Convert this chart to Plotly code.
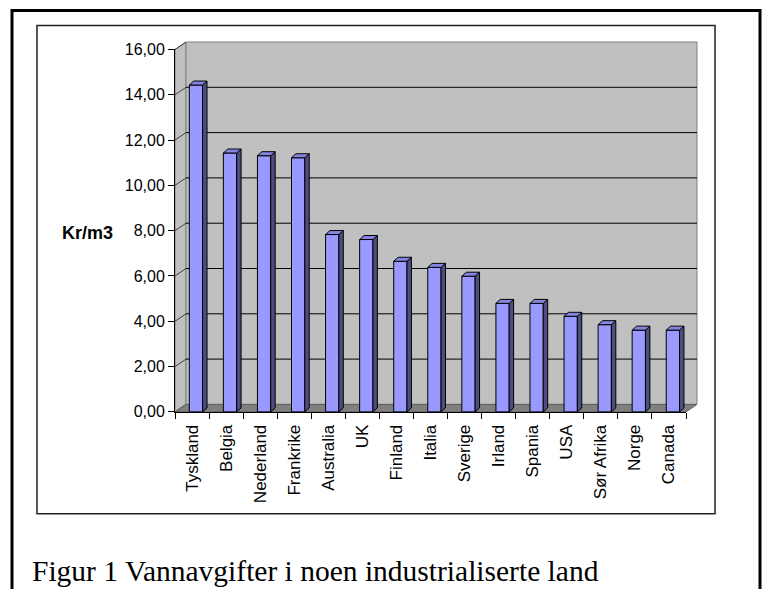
import plotly.graph_objects as go

# ---- data ----
countries = ["Tyskland", "Belgia", "Nederland", "Frankrike", "Australia", "UK",
             "Finland", "Italia", "Sverige", "Irland", "Spania", "USA",
             "Sør Afrika", "Norge", "Canada"]
values = [14.43, 11.43, 11.31, 11.22, 7.83, 7.61, 6.65, 6.38, 5.99, 4.79, 4.79,
          4.22, 3.85, 3.61, 3.61]
y_ticks = [0, 2, 4, 6, 8, 10, 12, 14, 16]
y_title = "Kr/m3"
caption = "Figur 1 Vannavgifter i noen industrialiserte land"

# ---- layout geometry (pixels) ----
W, H = 766, 598
AX_L, AX_R = 175, 686          # front x-axis extent
AX_B, AX_T = 415.7, 42.7       # front y-axis: value 0 / value 16
YMIN, YMAX = 0, 16
DX, DY = 11, 7.7               # depth of the 3D box
BAR_OFF, BAR_W = -0.08, 0.39
SIDE_DX = 0.13                 # bar depth, category units
SIDE_DY = 4.0 * (YMAX - YMIN) / 363.0   # bar depth, value units

def px(x):
    return x / W

def py(y):
    return 1 - y / H

def ypix(v):
    return AX_B - (v - YMIN) / (YMAX - YMIN) * (AX_B - AX_T)

idx = list(range(len(countries)))

fig = go.Figure()
# front faces
fig.add_trace(go.Bar(
    x=idx, y=values, width=BAR_W, offset=BAR_OFF,
    marker=dict(color="#9999FF", line=dict(color="black", width=1)),
    hoverinfo="skip"))

# side and top faces
sx, sy, tx, ty = [], [], [], []
for i, v in zip(idx, values):
    xl = i + BAR_OFF
    xr = xl + BAR_W
    sx += [xr, xr + SIDE_DX, xr + SIDE_DX, xr, xr, None]
    sy += [0, SIDE_DY, v + SIDE_DY, v, 0, None]
    tx += [xl, xr, xr + SIDE_DX, xl + SIDE_DX, xl, None]
    ty += [v, v, v + SIDE_DY, v + SIDE_DY, v, None]

fig.add_trace(go.Scatter(x=sx, y=sy, mode="lines", fill="toself",
                         fillcolor="#4D4D80", line=dict(color="black", width=1), hoverinfo="skip"))
fig.add_trace(go.Scatter(x=tx, y=ty, mode="lines", fill="toself",
                         fillcolor="#8585E0", line=dict(color="black", width=1), hoverinfo="skip"))

def pth(points, close=True):
    s = "M " + " L ".join(f"{px(a):.5f},{py(b):.5f}" for a, b in points)
    return s + (" Z" if close else "")

shapes = []
# outer frame (open at the bottom edge of the page)
shapes.append(dict(type="path", xref="paper", yref="paper",
                   path=pth([(12, H), (12, 2.6), (760, 2.6), (760, H)], close=False),
                   line=dict(color="black", width=3), layer="below"))
# inner chart frame
shapes.append(dict(type="rect", xref="paper", yref="paper",
                   x0=px(37), x1=px(715), y0=py(520.6), y1=py(18.0),
                   line=dict(color="#222222", width=1.5), layer="below"))
# side wall
shapes.append(dict(type="path", xref="paper", yref="paper",
                   path=pth([(AX_L, AX_B), (AX_L, AX_T), (AX_L + DX, AX_T - DY), (AX_L + DX, AX_B - DY)]),
                   fillcolor="#C0C0C0", line=dict(color="#808080", width=1), layer="below"))
# back wall
shapes.append(dict(type="rect", xref="paper", yref="paper",
                   x0=px(AX_L + DX), x1=px(AX_R + DX), y0=py(AX_B - DY), y1=py(AX_T - DY),
                   fillcolor="#C0C0C0", line=dict(color="#808080", width=1), layer="below"))
# gridlines on back wall and side wall
for v in y_ticks:
    yy = ypix(v)
    if 0 < v < YMAX:
        shapes.append(dict(type="line", xref="paper", yref="paper",
                           x0=px(AX_L + DX), x1=px(AX_R + DX), y0=py(yy - DY), y1=py(yy - DY),
                           line=dict(color="black", width=1), layer="below"))
    shapes.append(dict(type="line", xref="paper", yref="paper",
                       x0=px(AX_L), x1=px(AX_L + DX), y0=py(yy), y1=py(yy - DY),
                       line=dict(color="#404040", width=1), layer="below"))
# floor
shapes.append(dict(type="path", xref="paper", yref="paper",
                   path=pth([(AX_L, AX_B), (AX_R, AX_B), (AX_R + DX, AX_B - DY), (AX_L + DX, AX_B - DY)]),
                   fillcolor="#808080", line=dict(color="#606060", width=1), layer="below"))

fig.update_layout(
    width=W, height=H,
    margin=dict(l=0, r=0, t=0, b=0),
    paper_bgcolor="white", plot_bgcolor="rgba(0,0,0,0)",
    separators=", ",
    showlegend=False,
    shapes=shapes,
    font=dict(family="Liberation Sans, Arial, sans-serif", color="black"),
    xaxis=dict(
        domain=[px(AX_L), px(AX_R)], range=[-0.5, len(countries) - 0.5],
        tickmode="array", tickvals=idx, ticktext=countries, tickangle=-90,
        ticks="outside", ticklen=5, tickcolor="rgba(0,0,0,0)",
        minor=dict(tickmode="array", tickvals=[i - 0.5 for i in range(len(countries) + 1)],
                   ticks="outside", ticklen=6, tickcolor="black", showgrid=False),
        showline=True, linecolor="black", linewidth=1,
        showgrid=False, zeroline=False, fixedrange=True,
        tickfont=dict(size=17)),
    yaxis=dict(
        domain=[1 - AX_B / H, 1 - AX_T / H], range=[YMIN, YMAX],
        tickmode="array", tickvals=y_ticks, tickformat=".2f",
        ticks="outside", ticklen=6, tickcolor="black",
        showline=True, linecolor="black", linewidth=1,
        showgrid=False, zeroline=False, fixedrange=True,
        tickfont=dict(size=16)),
    annotations=[
        dict(text=f"<b>{y_title}</b>", xref="paper", yref="paper",
             x=px(87.5), y=py(231.8), xanchor="center", yanchor="middle",
             showarrow=False, font=dict(size=18, family="Liberation Sans, Arial, sans-serif")),
        dict(text=caption, xref="paper", yref="paper",
             x=px(30), y=py(579), xanchor="left", yanchor="middle",
             showarrow=False, font=dict(size=29.5, family="Liberation Serif, Times New Roman, serif")),
    ],
)

page_css = (
    "var s=document.createElement('style');"
    "s.textContent='html,body{margin:0;padding:0;overflow:hidden;}';"
    "document.head.appendChild(s);"
)

fig.write_html("out.html", config={"displayModeBar": False, "staticPlot": True},
               post_script=page_css)
